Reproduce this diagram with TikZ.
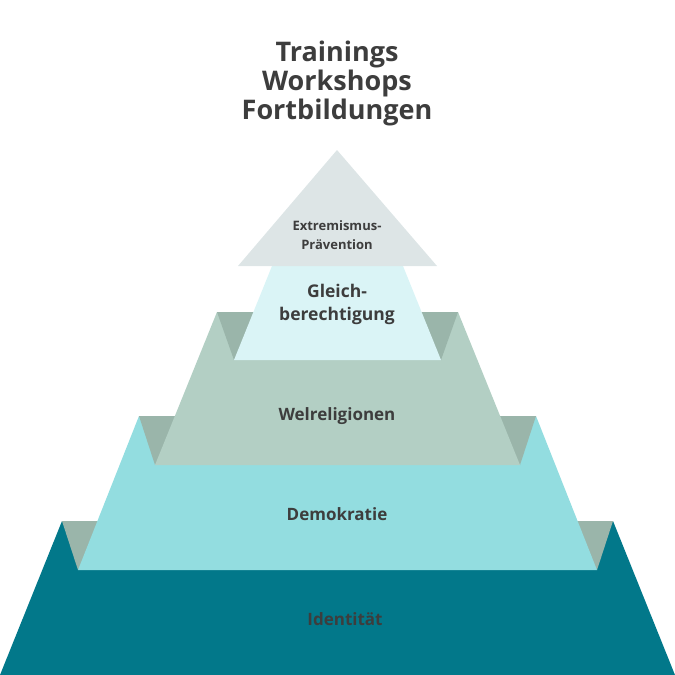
\documentclass[tikz,border=0pt]{standalone}
\usepackage{fontspec}
\setmainfont{Open Sans}
\definecolor{teal1}{HTML}{02788A}
\definecolor{demo}{HTML}{93DDE0}
\definecolor{welt}{HTML}{B3CFC4}
\definecolor{gleich}{HTML}{DAF4F6}
\definecolor{topc}{HTML}{DDE5E6}
\definecolor{corner}{HTML}{9AB5AA}
\definecolor{txt}{HTML}{3D3D3D}
\tikzset{lbl/.style={text=txt,font=\bfseries,align=center,inner sep=0pt}}
\begin{document}
\begin{tikzpicture}[x=1pt,y=-1pt]
\useasboundingbox (0,0) rectangle (675,675);
\fill[teal1] (0,675) -- (675,675) -- (613,521) -- (62,521) -- cycle;
\fill[corner] (62,521) -- (110,521) -- (78,570) -- cycle;
\fill[corner] (613,521) -- (565,521) -- (597,570) -- cycle;
\fill[demo] (78,570) -- (597,570) -- (536,416) -- (139,416) -- cycle;
\fill[corner] (139,416) -- (190,416) -- (155,465) -- cycle;
\fill[corner] (536,416) -- (485,416) -- (520,465) -- cycle;
\fill[welt] (155,465) -- (520,465) -- (458,312) -- (217,312) -- cycle;
\fill[corner] (217,312) -- (270,312) -- (234,360) -- cycle;
\fill[corner] (458,312) -- (405,312) -- (441,360) -- cycle;
\fill[gleich] (234,360) -- (441,360) -- (403,266) -- (272,266) -- cycle;
\fill[topc] (337,150) -- (437,266) -- (238,266) -- cycle;
\node[lbl,font=\bfseries\fontsize{27}{29}\selectfont] (title) at (337,83) {Trainings\\Workshops\\Fortbildungen};
\node[lbl,font=\bfseries\fontsize{13}{19}\selectfont] (ext) at (337,235) {Extremismus-\\Prävention};
\node[lbl,font=\bfseries\fontsize{17.5}{23}\selectfont] (gl) at (337,304) {Gleich-\\berechtigung};
\node[lbl,font=\bfseries\fontsize{17}{20}\selectfont] (we) at (337,416) {Welreligionen};
\node[lbl,font=\bfseries\fontsize{17}{20}\selectfont] (de) at (337,514) {Demokratie};
\node[lbl,font=\bfseries\fontsize{17}{20}\selectfont] (id) at (345,619) {Identität};
\end{tikzpicture}
\end{document}
